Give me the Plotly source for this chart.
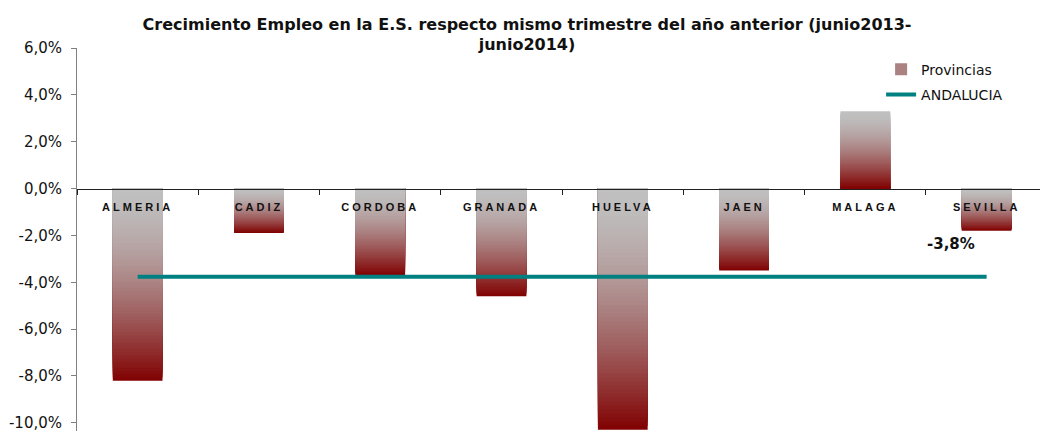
import plotly.graph_objects as go

# ---- data ----
provincias = ["ALMERIA", "CADIZ", "CORDOBA", "GRANADA", "HUELVA", "JAEN", "MALAGA", "SEVILLA"]
crecimiento = [-8.2, -1.9, -3.7, -4.6, -10.3, -3.5, 3.3, -1.8]   # % change
andalucia = -3.76                                                  # regional value (%)
y_ticks = [6, 4, 2, 0, -2, -4, -6, -8, -10]
title_text = ("Crecimiento Empleo en la E.S. respecto mismo trimestre del año anterior (junio2013-"
              "<br>junio2014)")


def pct(v):
    return f"{v:.1f}".replace(".", ",") + "%"


GREY = (192, 192, 192)
RED = (128, 0, 0)


def grad(t):
    s = max(0.0, min(1.0, t)) ** 1.6
    return "rgb(%d,%d,%d)" % tuple(round(g + (r - g) * s) for g, r in zip(GREY, RED))


N = 60
fig = go.Figure()
for k in range(N):
    f = (N - k) / N
    ys = [v * f for v in crecimiento]
    cols = []
    for v in crecimiento:
        t = f - 0.5 / N if v < 0 else 1 - f + 0.5 / N
        cols.append(grad(t))
    show = (k == N // 2)
    fig.add_trace(go.Bar(
        x=provincias, y=ys, width=0.41,
        marker=dict(color=cols, line=dict(width=0)),
        name="Provincias", showlegend=show, legendgroup="p",
        hoverinfo="skip",
    ))

fig.add_trace(go.Scatter(
    x=provincias, y=[andalucia] * len(provincias), mode="lines",
    line=dict(color="#008080", width=4), name="ANDALUCIA", legendgroup="a",
))

fig.add_annotation(
    x=provincias[-1], y=andalucia, text=pct(andalucia), showarrow=False,
    xshift=-36, yshift=33,
    font=dict(family="DejaVu Sans", size=15, color="#111111", weight="bold"),
)

ymin, ymax = -10.35, 6
fig.update_layout(
    width=1040, height=432,
    margin=dict(l=77, r=0, t=48, b=1),
    paper_bgcolor="white", plot_bgcolor="white",
    barmode="overlay",
    title=dict(text=title_text, x=527 / 1040, xanchor="center", xref="container",
               y=1 - 29.5 / 432, yanchor="middle", yref="container",
               font=dict(family="DejaVu Sans", size=16, color="#111111", weight="bold")),
    xaxis=dict(type="category", categoryorder="array", categoryarray=provincias,
               range=[-0.5, 7.44], anchor="free", position=(0 - ymin) / (ymax - ymin),
               showline=True, linecolor="#202020", linewidth=1,
               ticks="outside", tickson="boundaries", ticklen=5, tickcolor="#202020",
               ticklabelstandoff=8,
               tickfont=dict(family="Liberation Sans", size=11, color="#111111", weight="bold"),
               showgrid=False, zeroline=False),
    yaxis=dict(range=[ymin, ymax], tickvals=y_ticks, ticktext=[pct(v) for v in y_ticks],
               showline=True, linecolor="#808080", linewidth=1,
               ticks="outside", ticklen=5, tickcolor="#808080", ticklabelstandoff=6,
               ticklabeloverflow="allow", automargin=False,
               tickfont=dict(family="DejaVu Sans", size=15, color="#111111"),
               showgrid=False, zeroline=False),
    legend=dict(x=0.835, y=0.985, xanchor="left", yanchor="top",
                font=dict(family="DejaVu Sans", size=14, color="#111111"),
                bgcolor="rgba(0,0,0,0)", traceorder="grouped", tracegroupgap=4),
    showlegend=True,
)

post = """
document.body.style.margin = '0';
var gd = document.getElementById('{plot_id}');
function spaceTicks() {
  document.querySelectorAll('.xtick text').forEach(function (t) { t.style.letterSpacing = '3px'; });
}
spaceTicks();
if (gd && gd.on) { gd.on('plotly_afterplot', spaceTicks); }
"""

fig.write_html("out.html", post_script=post, config={"displayModeBar": False})
